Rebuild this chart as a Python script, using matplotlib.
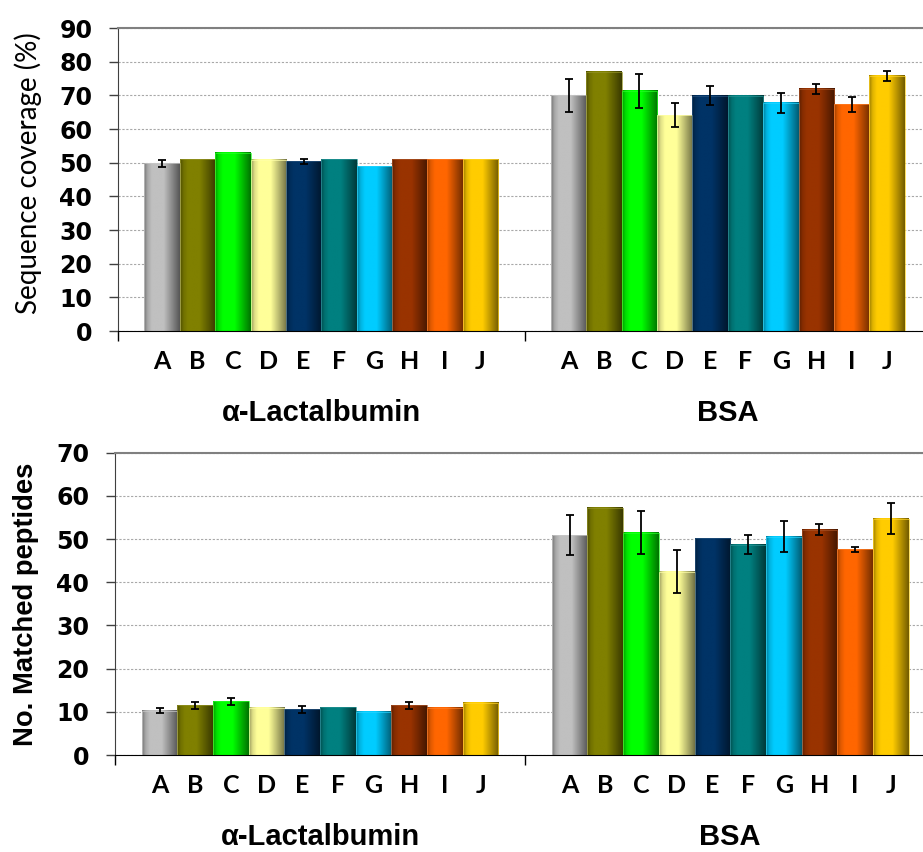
import numpy as np
import matplotlib
matplotlib.use("Agg")
import matplotlib.pyplot as plt
from matplotlib.colors import to_rgb
from matplotlib.ticker import FixedLocator

plt.rcParams['font.family'] = ['Liberation Sans', 'DejaVu Sans']

groups = ['α-Lactalbumin', 'BSA']
letters = ['A', 'B', 'C', 'D', 'E', 'F', 'G', 'H', 'I', 'J']
bar_colors = ['#C0C0C0', '#808000', '#00FF00', '#FFFF99', '#003366',
              '#008080', '#00CCFF', '#993300', '#FF6600', '#FFCC00']

# sequence coverage (%)
cov_lact = [49.8, 51.0, 52.9, 50.8, 50.4, 51.0, 49.0, 51.0, 51.0, 51.0]
cov_lact_err = [1.0, 0, 0, 0, 0.7, 0, 0, 0, 0, 0]
cov_bsa = [70.1, 77.0, 71.3, 64.1, 69.9, 69.9, 67.8, 71.9, 67.3, 75.8]
cov_bsa_err = [4.9, 0, 5.0, 3.5, 2.8, 0, 2.9, 1.6, 2.1, 1.5]

# number of matched peptides
pep_lact = [10.3, 11.5, 12.5, 10.9, 10.6, 11.1, 10.0, 11.5, 11.0, 12.1]
pep_lact_err = [0.5, 0.8, 0.8, 0, 0.8, 0, 0, 0.75, 0, 0]
pep_bsa = [50.9, 57.2, 51.5, 42.5, 50.2, 48.7, 50.6, 52.2, 47.6, 54.7]
pep_bsa_err = [4.6, 0, 5.0, 5.0, 0, 2.2, 3.6, 1.3, 0.6, 3.6]

BAR_W = 0.087

# darker edges, bright middle: gives the cylinder-like shading
prof_x = [0.0, 0.10, 0.22, 0.55, 0.80, 1.0]
prof_f = [0.62, 0.88, 1.0, 1.0, 0.70, 0.45]


def shaded_bars(ax, xs, heights):
    bars = ax.bar(xs, heights, width=BAR_W, facecolor='none', zorder=3,
                  edgecolor=[tuple(0.85 * np.array(to_rgb(c)) + 0.15) for c in bar_colors],
                  linewidth=0.5)
    t = np.linspace(0, 1, 80)
    f = np.interp(t, prof_x, prof_f)
    for bar, c in zip(bars, bar_colors):
        rgb = np.array(to_rgb(c))
        img = np.clip(rgb[None, :] * f[:, None], 0, 1)[None, :, :]
        x0, y0 = bar.get_xy()
        ax.imshow(img, extent=[x0, x0 + bar.get_width(), y0, y0 + bar.get_height()],
                  aspect='auto', interpolation='bilinear', zorder=2)
    return bars


def draw_panel(ax, data, errs, ymax, ylabel, ylabel_font, xright, ylab_x, ylab_y):
    all_x = []
    for g, (vals, err) in enumerate(zip(data, errs)):
        xs = g + (np.arange(10) - 4.5) * BAR_W
        all_x.extend(xs)
        shaded_bars(ax, xs, vals)
        vals = np.array(vals)
        err = np.array(err)
        m = err > 0
        ax.errorbar(xs[m], vals[m], yerr=err[m], fmt='none', ecolor='black',
                    elinewidth=1.3, capsize=3, capthick=1.3, zorder=4)
        ax.annotate(groups[g], xy=(g, 0), xycoords=('data', 'axes fraction'),
                    xytext=(0, -59), textcoords='offset points',
                    ha='center', va='center', fontsize=21, fontweight='bold')

    ax.set_xlim(-0.5, xright)
    ax.set_ylim(0, ymax)
    ax.set_xticks(all_x)
    ax.set_xticklabels(letters * 2, family=['Lato', 'DejaVu Sans'],
                       fontweight='bold', fontsize=18)
    ax.tick_params(axis='x', which='major', length=0, pad=14)
    ax.xaxis.set_minor_locator(FixedLocator([-0.5, 0.5, 1.5]))
    ax.tick_params(axis='x', which='minor', length=7, width=1, color='black')

    ax.set_yticks(np.arange(0, ymax + 1, 10))
    ax.tick_params(axis='y', which='major', length=6.5, width=1, color='#404040',
                   pad=12)
    for lab in ax.get_yticklabels():
        lab.set_family('DejaVu Sans')
        lab.set_fontweight('bold')
        lab.set_fontsize(17)

    ax.yaxis.grid(True, linestyle=(0, (2, 1.5)), color='#a8a8a8', linewidth=0.8)
    ax.set_axisbelow(True)
    ax.spines['right'].set_visible(False)
    ax.spines['top'].set_color('#808080')
    ax.spines['top'].set_linewidth(1.5)
    ax.spines['left'].set_color('#404040')
    ax.spines['bottom'].set_color('black')
    ax.set_ylabel(ylabel, **ylabel_font)
    ax.yaxis.set_label_coords(ylab_x, ylab_y)
    ax.yaxis.label.set_va('center')


fig = plt.figure(figsize=(9.23, 8.52), dpi=100)

ax1 = fig.add_axes([0.1278, 0.6115, 0.8722, 0.3556])
draw_panel(ax1, [cov_lact, cov_bsa], [cov_lact_err, cov_bsa_err], 90,
           'Sequence coverage (%)',
           dict(family=['Lato', 'DejaVu Sans'], fontsize=20), 1.48, -0.112, 0.52)

ax2 = fig.add_axes([0.1246, 0.1138, 0.8754, 0.3548])
draw_panel(ax2, [pep_lact, pep_bsa], [pep_lact_err, pep_bsa_err], 70,
           'No. Matched peptides',
           dict(fontsize=19.7, fontweight='bold'), 1.47, -0.11, 0.5)

fig.savefig('out.png', dpi=100)
